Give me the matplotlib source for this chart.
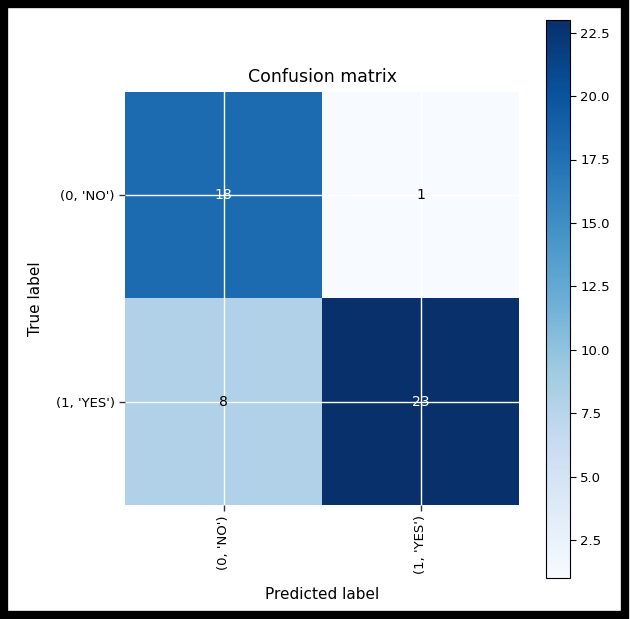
import numpy as np
import matplotlib
matplotlib.use("Agg")
import matplotlib.pyplot as plt
from matplotlib.patches import Rectangle

classes = ["(0, 'NO')", "(1, 'YES')"]
cm = np.array([[18, 1],
               [8, 23]])
cbar_ticks = [2.5, 5.0, 7.5, 10.0, 12.5, 15.0, 17.5, 20.0, 22.5]

W, H = 631, 619
fig = plt.figure(figsize=(W/100, H/100), dpi=100)
fig.patch.set_facecolor("white")

ax = fig.add_axes([125/W, 1-505/H, (519-125)/W, (505-92)/H])
im = ax.imshow(cm, cmap="Blues", interpolation="nearest", aspect="auto")
ax.set_title("Confusion matrix", fontsize=12.5, pad=7)
ticks = np.arange(len(classes))
ax.set_xticks(ticks)
ax.set_xticklabels(classes, rotation=90, fontsize=9.5)
ax.set_yticks(ticks)
ax.set_yticklabels(classes, fontsize=9.5)
ax.grid(True, color="white", linewidth=1)
for s in ax.spines.values():
    s.set_visible(False)
ax.tick_params(length=4, width=1, color="#333333")
thresh = cm.max() / 2.0
for i in range(cm.shape[0]):
    for j in range(cm.shape[1]):
        ax.text(j, i, format(cm[i, j], "d"), ha="center", va="center",
                color="white" if cm[i, j] > thresh else "black", fontsize=10)
ax.set_ylabel("True label", fontsize=11, labelpad=9)
ax.set_xlabel("Predicted label", fontsize=11, labelpad=9)

cax = fig.add_axes([546/W, 1-578/H, 24/W, (578-20)/H])
cb = fig.colorbar(im, cax=cax, ticks=cbar_ticks)
cb.ax.tick_params(labelsize=9.5, length=4)
cb.outline.set_edgecolor("black")

fig.patches.append(Rectangle((4/W, 4/H), 1-10/W, 1-8/H, transform=fig.transFigure,
                             fill=False, edgecolor="black", linewidth=6, figure=fig))

fig.savefig("out.png", dpi=100)
